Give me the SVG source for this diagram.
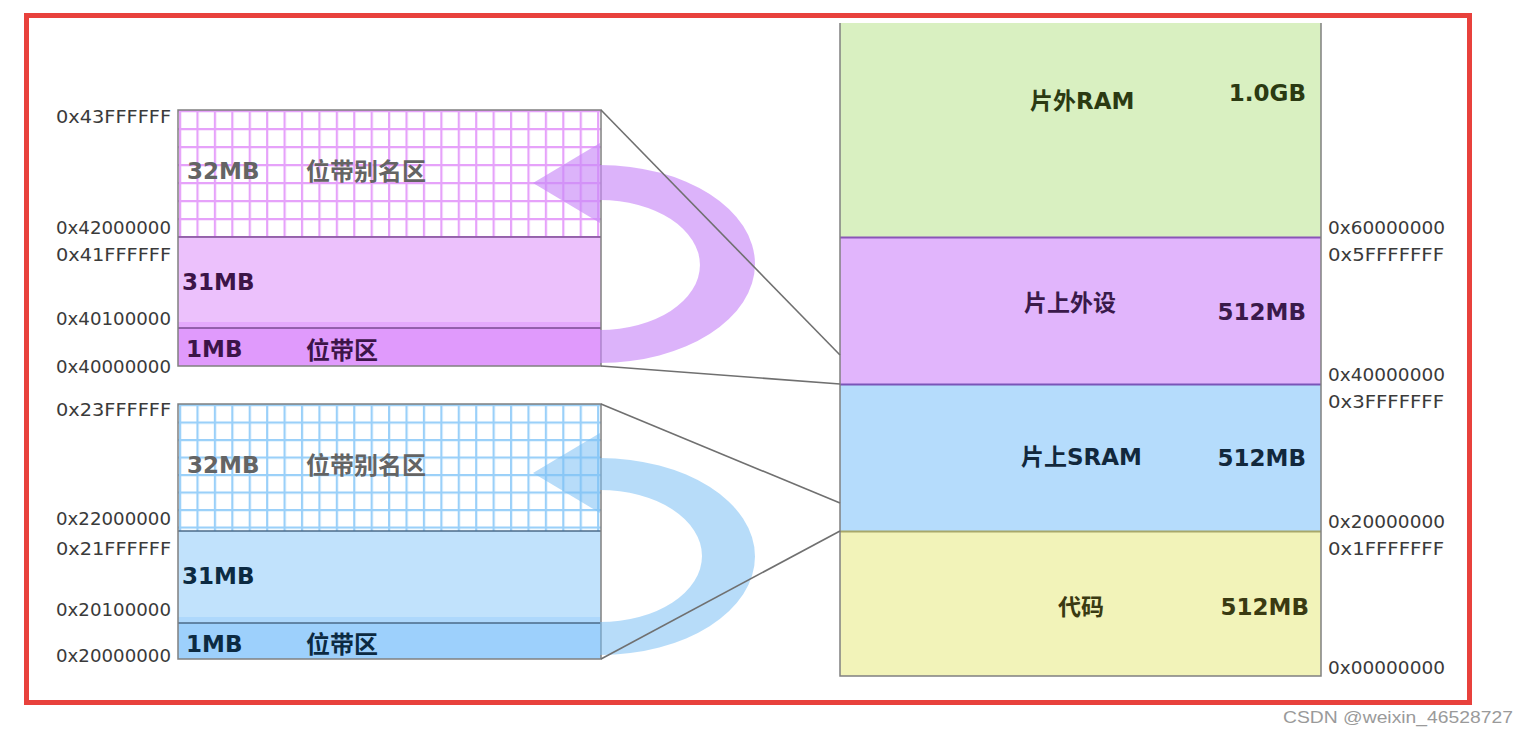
<svg xmlns="http://www.w3.org/2000/svg" width="1528" height="736" viewBox="0 0 1528 736">
<defs>
<style>
.addr{font-family:"DejaVu Sans","Noto Sans",sans-serif;font-size:18px;fill:#3a3a3a}
.lbl{font-family:"DejaVu Sans","Noto Sans CJK SC",sans-serif;font-size:23px;font-weight:bold}
.cjk{font-family:"Noto Sans CJK SC","DejaVu Sans",sans-serif;font-size:24px;font-weight:bold}
.gray{fill:#646464}
.conn{stroke:#707070;stroke-width:1.6;fill:none}
.edge{fill:none;stroke:#808080;stroke-width:1.5}
</style>
<pattern id="gridP" patternUnits="userSpaceOnUse" x="179" y="110" width="17.42" height="18">
<rect width="17.42" height="18" fill="#ffffff"/>
<path d="M1,0V18M0,1H17.42" stroke="#e6a2fa" stroke-width="2.4"/>
</pattern>
<pattern id="gridB" patternUnits="userSpaceOnUse" x="179" y="404" width="17.42" height="17.5">
<rect width="17.42" height="17.5" fill="#ffffff"/>
<path d="M1,0V17.5M0,1H17.42" stroke="#9ad0f9" stroke-width="2.4"/>
</pattern>
</defs>
<rect width="1528" height="736" fill="#ffffff"/>
<rect x="26.5" y="15.5" width="1443" height="687" fill="none" stroke="#e8413c" stroke-width="5"/>

<g id="memory-map">
<g id="ext-ram">
<rect x="840" y="23" width="481" height="214" fill="#d9f0c1"/>
<text class="lbl" x="1030" y="109" fill="#2b3a12">片外RAM</text>
<text class="lbl" x="1306" y="101" text-anchor="end" fill="#2b3a12">1.0GB</text>
</g>
<g id="peripheral">
<rect x="840" y="237" width="481" height="147" fill="#e1b5fc"/>
<line x1="840" y1="237.5" x2="1321" y2="237.5" stroke="#8a55b8" stroke-width="2"/>
<text class="lbl" x="1024" y="311" fill="#3a1a4a">片上外设</text>
<text class="lbl" x="1306" y="320" text-anchor="end" fill="#3a1a4a">512MB</text>
</g>
<g id="sram">
<rect x="840" y="384" width="481" height="147" fill="#b5dcfc"/>
<line x1="840" y1="384.5" x2="1321" y2="384.5" stroke="#7a55b8" stroke-width="2"/>
<text class="lbl" x="1021" y="465" fill="#12283c">片上SRAM</text>
<text class="lbl" x="1306" y="466" text-anchor="end" fill="#12283c">512MB</text>
</g>
<g id="code">
<rect x="840" y="531" width="481" height="145" fill="#f2f3b9"/>
<line x1="840" y1="531.5" x2="1321" y2="531.5" stroke="#a8a86a" stroke-width="2"/>
<text class="lbl" x="1058" y="615" fill="#3a3a12">代码</text>
<text class="lbl" x="1309" y="615" text-anchor="end" fill="#3a3a12">512MB</text>
</g>
<path class="edge" d="M840,23V676H1321V23"/>
</g>

<g id="bitband-periph">
<rect x="178" y="110" width="423" height="127" fill="url(#gridP)"/>
<rect x="178" y="237" width="423" height="91" fill="#ecc1fc"/>
<rect x="178" y="322" width="423" height="6" fill="#e4a9fc"/>
<rect x="178" y="328" width="423" height="38" fill="#e09afc"/>
<line x1="178" y1="237" x2="601" y2="237" stroke="#7a4a92" stroke-width="1.5"/>
<line x1="178" y1="328" x2="601" y2="328" stroke="#7a4a92" stroke-width="1.5"/>
<rect class="edge" x="178" y="110" width="423" height="256"/>
<text class="lbl gray" x="187" y="179">32MB</text>
<text class="cjk gray" x="306" y="180">位带别名区</text>
<text class="lbl" x="182" y="290" fill="#3c1448">31MB</text>
<text class="lbl" x="186" y="357" fill="#3c1448">1MB</text>
<text class="cjk" x="306" y="359" fill="#3c1448">位带区</text>
</g>

<g id="bitband-sram">
<rect x="178" y="404" width="423" height="127" fill="url(#gridB)"/>
<rect x="178" y="531" width="423" height="92" fill="#c1e2fc"/>
<rect x="178" y="617" width="423" height="6" fill="#aed8fc"/>
<rect x="178" y="623" width="423" height="36" fill="#9dd0fc"/>
<line x1="178" y1="531" x2="601" y2="531" stroke="#4a6a88" stroke-width="1.5"/>
<line x1="178" y1="623" x2="601" y2="623" stroke="#4a6a88" stroke-width="1.5"/>
<rect class="edge" x="178" y="404" width="423" height="255"/>
<text class="lbl gray" x="187" y="473">32MB</text>
<text class="cjk gray" x="306" y="474">位带别名区</text>
<text class="lbl" x="182" y="584" fill="#0c2a42">31MB</text>
<text class="lbl" x="186" y="652" fill="#0c2a42">1MB</text>
<text class="cjk" x="306" y="653" fill="#0c2a42">位带区</text>
</g>

<g id="arrows">
<path d="M600,165A155,99 0 0 1 600,363L600,330A100,65 0 0 0 600,200Z M600,143L533,183L600,223Z" fill="#c98af8" opacity="0.65"/>
<path d="M600,458A155,98.5 0 0 1 600,655L600,622A102,66 0 0 0 600,490Z M600,433L533,473L600,513Z" fill="#7cc0f4" opacity="0.55"/>
</g>

<g id="connectors">
<line class="conn" x1="601" y1="110" x2="840" y2="355"/>
<line class="conn" x1="601" y1="366" x2="840" y2="384"/>
<line class="conn" x1="601" y1="404" x2="840" y2="503"/>
<line class="conn" x1="601" y1="659" x2="840" y2="531"/>
</g>

<g id="addresses-left">
<text class="addr" x="171" y="123" text-anchor="end" textLength="115" lengthAdjust="spacingAndGlyphs">0x43FFFFFF</text>
<text class="addr" x="171" y="234" text-anchor="end" textLength="115" lengthAdjust="spacingAndGlyphs">0x42000000</text>
<text class="addr" x="171" y="261" text-anchor="end" textLength="115" lengthAdjust="spacingAndGlyphs">0x41FFFFFF</text>
<text class="addr" x="171" y="325" text-anchor="end" textLength="115" lengthAdjust="spacingAndGlyphs">0x40100000</text>
<text class="addr" x="171" y="373" text-anchor="end" textLength="115" lengthAdjust="spacingAndGlyphs">0x40000000</text>
<text class="addr" x="171" y="416" text-anchor="end" textLength="115" lengthAdjust="spacingAndGlyphs">0x23FFFFFF</text>
<text class="addr" x="171" y="525" text-anchor="end" textLength="115" lengthAdjust="spacingAndGlyphs">0x22000000</text>
<text class="addr" x="171" y="555" text-anchor="end" textLength="115" lengthAdjust="spacingAndGlyphs">0x21FFFFFF</text>
<text class="addr" x="171" y="616" text-anchor="end" textLength="115" lengthAdjust="spacingAndGlyphs">0x20100000</text>
<text class="addr" x="171" y="662" text-anchor="end" textLength="115" lengthAdjust="spacingAndGlyphs">0x20000000</text>
</g>
<g id="addresses-right">
<text class="addr" x="1328" y="234" textLength="117" lengthAdjust="spacingAndGlyphs">0x60000000</text>
<text class="addr" x="1328" y="261" textLength="116" lengthAdjust="spacingAndGlyphs">0x5FFFFFFF</text>
<text class="addr" x="1328" y="381" textLength="117" lengthAdjust="spacingAndGlyphs">0x40000000</text>
<text class="addr" x="1328" y="408" textLength="116" lengthAdjust="spacingAndGlyphs">0x3FFFFFFF</text>
<text class="addr" x="1328" y="528" textLength="117" lengthAdjust="spacingAndGlyphs">0x20000000</text>
<text class="addr" x="1328" y="555" textLength="116" lengthAdjust="spacingAndGlyphs">0x1FFFFFFF</text>
<text class="addr" x="1328" y="674" textLength="117" lengthAdjust="spacingAndGlyphs">0x00000000</text>
</g>

<text x="1283" y="723" font-family="Liberation Sans, Arial, sans-serif" font-size="17" fill="#9a9a9a" textLength="230" lengthAdjust="spacingAndGlyphs">CSDN @weixin_46528727</text>
</svg>
